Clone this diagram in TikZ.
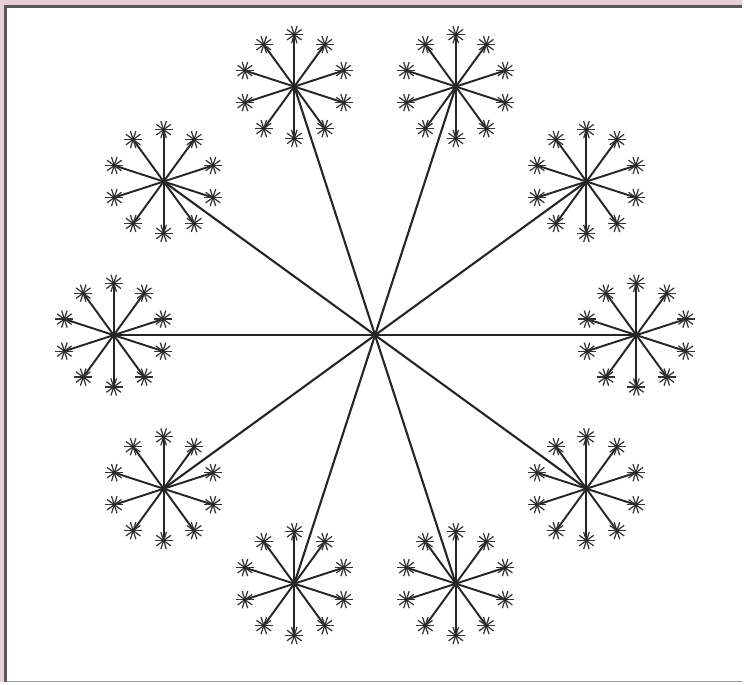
\documentclass[tikz,border=0pt]{standalone}
\usetikzlibrary{calc}

\definecolor{framepink}{RGB}{232,206,216}
\definecolor{framegray}{RGB}{88,88,88}

\begin{document}
\begin{tikzpicture}[
    x=0.02cm, y=0.02cm,
    spoke/.style={line width=1.2pt, draw=black!85},
    twig/.style={line width=1.1pt, draw=black!85},
    bristle/.style={line width=0.7pt, draw=black!80}
  ]
    % Frame
    \fill[framepink] (0,0) rectangle (744,684);
    \fill[white] (7.5,0) rectangle (744,676);
    \draw[framegray, line width=2.2pt] (5.5,0) -- (5.5,677.5) -- (744,677.5);
    \draw[gray!80, line width=1pt] (7.5,0.8) -- (744,0.8);
    \useasboundingbox (0,0) rectangle (744,684);

    % Hub and first level
    \coordinate (hub) at (376,348);
    \foreach \a in {0,36,...,324} {
      \coordinate (star-\a) at ($(hub)+(\a:262)$);
      \draw[spoke] (hub) -- (star-\a);
      % second level
      \foreach \b in {18,54,...,342} {
        \coordinate (tip-\a-\b) at ($(star-\a)+(\b:52)$);
        \draw[twig] (star-\a) -- (tip-\a-\b);
        % third level
        \foreach \c in {0,36,...,324}
          \draw[bristle] (tip-\a-\b) -- ++(\c:9);
        \fill[black!85] (tip-\a-\b) circle (1.8);
      }
    }

  \end{tikzpicture}
\end{document}
